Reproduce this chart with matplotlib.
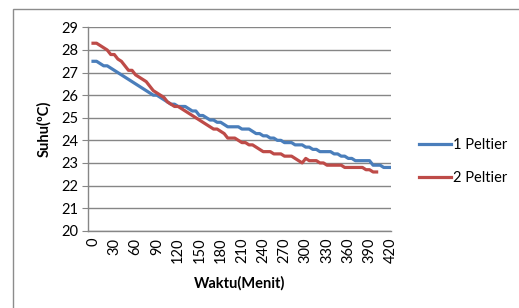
"""Suhu vs waktu untuk 1 dan 2 Peltier."""

import numpy as np
import matplotlib
matplotlib.use("Agg")
import matplotlib.pyplot as plt
from matplotlib.patches import Rectangle

step_min = 5
suhu_1_peltier = [
    27.5, 27.5, 27.4, 27.3, 27.3, 27.2, 27.1, 27.0, 26.9, 26.8,
    26.7, 26.6, 26.5, 26.4, 26.3, 26.2, 26.1, 26.0, 26.0, 25.9,
    25.8, 25.7, 25.6, 25.6, 25.5, 25.5, 25.5, 25.4, 25.3, 25.3,
    25.1, 25.1, 25.0, 24.9, 24.9, 24.8, 24.8, 24.7, 24.6, 24.6,
    24.6, 24.6, 24.5, 24.5, 24.5, 24.4, 24.3, 24.3, 24.2, 24.2,
    24.1, 24.1, 24.0, 24.0, 23.9, 23.9, 23.9, 23.8, 23.8, 23.8,
    23.7, 23.7, 23.6, 23.6, 23.5, 23.5, 23.5, 23.5, 23.4, 23.4,
    23.3, 23.3, 23.2, 23.2, 23.1, 23.1, 23.1, 23.1, 23.1, 22.9,
    22.9, 22.9, 22.8, 22.8, 22.8,
]
suhu_2_peltier = [
    28.3, 28.3, 28.2, 28.1, 28.0, 27.8, 27.8, 27.6, 27.5, 27.3,
    27.1, 27.1, 26.9, 26.8, 26.7, 26.6, 26.4, 26.2, 26.1, 26.0,
    25.9, 25.7, 25.6, 25.5, 25.5, 25.4, 25.3, 25.2, 25.1, 25.0,
    24.9, 24.8, 24.7, 24.6, 24.5, 24.5, 24.4, 24.3, 24.1, 24.1,
    24.1, 24.0, 23.9, 23.9, 23.8, 23.8, 23.7, 23.6, 23.5, 23.5,
    23.5, 23.4, 23.4, 23.4, 23.3, 23.3, 23.3, 23.2, 23.1, 23.0,
    23.2, 23.1, 23.1, 23.1, 23.0, 23.0, 22.9, 22.9, 22.9, 22.9,
    22.9, 22.8, 22.8, 22.8, 22.8, 22.8, 22.8, 22.7, 22.7, 22.6,
    22.6,
]
x_ticks = list(range(0, 421, 30))
series_labels = ["1 Peltier", "2 Peltier"]

waktu_1 = np.arange(len(suhu_1_peltier)) * step_min
waktu_2 = np.arange(len(suhu_2_peltier)) * step_min

plt.rcParams["font.family"] = ["Lato", "DejaVu Sans"]

fig = plt.figure(figsize=(5.19, 3.08), dpi=100)
ax = fig.add_axes([0.169, 0.251, 0.584, 0.660])

# Chart area border
fig.patches.append(Rectangle((13 / 519, -0.1), 1.2, 1.1 - 9 / 308,
                             transform=fig.transFigure, fill=False,
                             edgecolor="#8c8c8c", linewidth=1.0))

ax.plot(waktu_1, suhu_1_peltier, color="#4A7EBB", linewidth=2.3,
        label=series_labels[0], solid_joinstyle="round")
ax.plot(waktu_2, suhu_2_peltier, color="#BE4B48", linewidth=2.3,
        label=series_labels[1], solid_joinstyle="round")

ax.set_xlim(-7.5, 420)
ax.set_ylim(20, 29)
ax.set_yticks(range(20, 30))
ax.set_xticks(x_ticks)
ax.set_xticklabels([str(t) for t in x_ticks], rotation=90)
ax.tick_params(axis="y", length=4, color="#868686", labelsize=10.5, pad=3)
ax.tick_params(axis="x", length=0, labelsize=10.5, pad=5)

ax.grid(axis="y", color="#868686", linewidth=1.0)
ax.set_axisbelow(True)
for side in ["top", "right"]:
    ax.spines[side].set_visible(False)
for side in ["left", "bottom"]:
    ax.spines[side].set_color("#868686")
    ax.spines[side].set_linewidth(1.0)

ax.set_xlabel("Waktu(Menit)", fontsize=10.5, fontweight="bold", labelpad=9)
ax.set_ylabel("Suhu(ºC)", fontsize=10.5, fontweight="bold", labelpad=7)

fig.legend(loc="center left", bbox_to_anchor=(0.782, 0.476),
           frameon=False, fontsize=10.5, handlelength=2.2,
           handletextpad=0.1, labelspacing=1.3)

plt.savefig("out.png", dpi=100)
plt.close()
